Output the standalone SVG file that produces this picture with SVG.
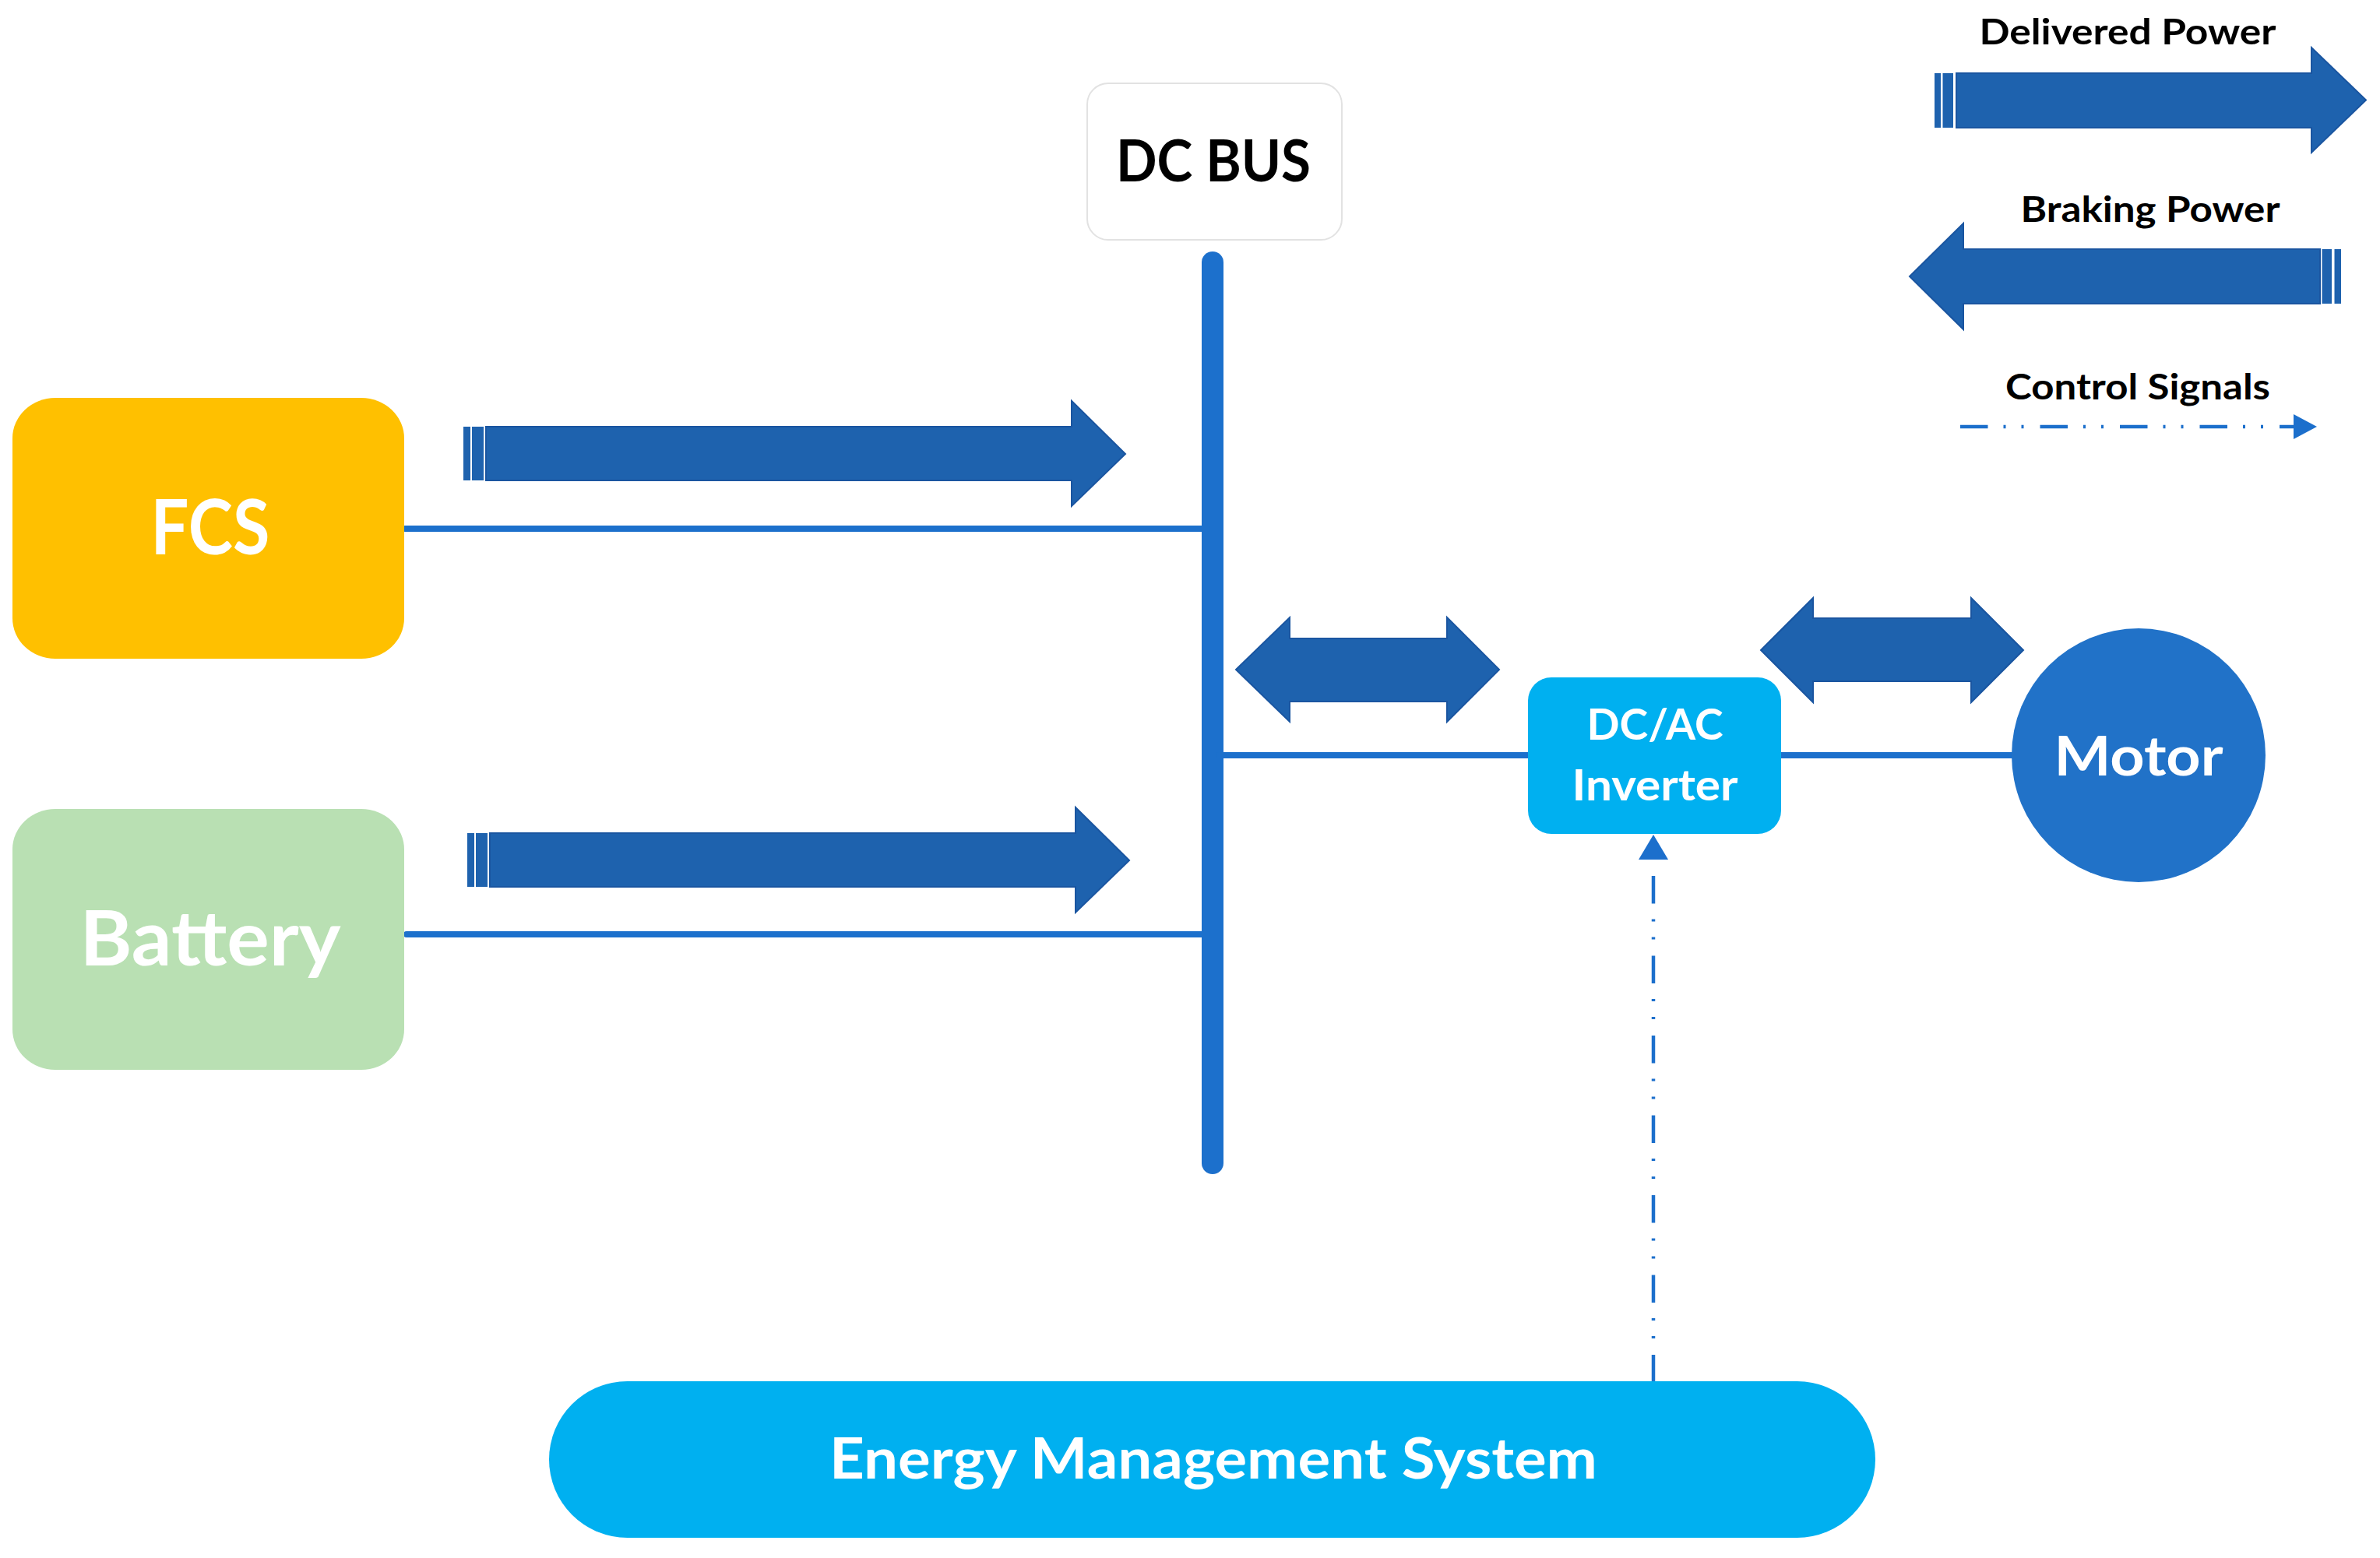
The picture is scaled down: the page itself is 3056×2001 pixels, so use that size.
<svg xmlns="http://www.w3.org/2000/svg" width="3056" height="2001" viewBox="0 0 3056 2001">
  <style>
    .lbl { font-family: Lato, "Open Sans", "Liberation Sans", sans-serif; font-weight: 700; text-anchor: middle; }
    .white { fill: #ffffff; }
    .black { fill: #000000; }
    .parrow { fill: #1e62ae; stroke: #1a55a0; stroke-width: 2; }
    .stripe { fill: #1e62ae; }
    .wire { stroke: #1c70cc; stroke-width: 8; stroke-linecap: round; fill: none; }
    .ctrl { stroke: #1c6fcc; stroke-width: 4.5; fill: none; stroke-dasharray: 35.5 20 3 20 3 21; }
    .ctrlhead { fill: #1c6fcc; }
  </style>
  <rect x="0" y="0" width="3056" height="2001" fill="#ffffff"/>

  <g id="connectors">
    <line id="bus-bar" x1="1557" y1="337" x2="1557" y2="1494" stroke="#1c70cc" stroke-width="28" stroke-linecap="round"/>
    <line class="wire" x1="520" y1="679" x2="1550" y2="679"/>
    <line class="wire" x1="522" y1="1200" x2="1550" y2="1200"/>
    <line class="wire" x1="1565" y1="970" x2="1964" y2="970"/>
    <line class="wire" x1="2285" y1="970" x2="2586" y2="970"/>
    <path class="ctrl" d="M2123,1125 V1776"/>
    <polygon class="ctrlhead" points="2123,1072 2142,1104 2104,1104"/>
    <!-- power flow arrows -->
    <g id="fcs-arrow">
      <rect class="stripe" x="595" y="548" width="9" height="69"/>
      <rect class="stripe" x="606" y="548" width="15" height="69"/>
      <path class="parrow" d="M624,548 H1376 V515 L1445,583 L1376,650 V617 H624 Z"/>
    </g>
    <g id="battery-arrow">
      <rect class="stripe" x="600" y="1070" width="9" height="69"/>
      <rect class="stripe" x="611" y="1070" width="15" height="69"/>
      <path class="parrow" d="M629,1070 H1381 V1037 L1450,1105 L1381,1172 V1139 H629 Z"/>
    </g>
    <path id="bus-inverter-arrow" class="parrow" d="M1587,860 L1656,793 V820 H1858 V793 L1925,860 L1858,927 V901 H1656 V927 Z"/>
    <path id="inverter-motor-arrow" class="parrow" d="M2261,835 L2328,768 V794 H2531 V768 L2598,835 L2531,902 V875 H2328 V902 Z"/>
  </g>

  <g id="node-dcbus">
    <rect x="1396" y="107" width="327" height="201" rx="27" ry="27" fill="#ffffff" stroke="#e2e2e2" stroke-width="2"/>
    <text class="lbl black" x="1558" y="233" font-size="74" textLength="250" lengthAdjust="spacingAndGlyphs">DC BUS</text>
  </g>

  <g id="node-fcs">
    <rect x="16" y="511" width="503" height="335" rx="55" ry="52" fill="#ffc000"/>
    <text class="lbl white" x="270" y="712" font-size="98" textLength="153" lengthAdjust="spacingAndGlyphs">FCS</text>
  </g>

  <g id="node-battery">
    <rect x="16" y="1039" width="503" height="335" rx="55" ry="52" fill="#b9e0b3"/>
    <text class="lbl white" x="270" y="1240" font-size="98" textLength="335" lengthAdjust="spacingAndGlyphs">Battery</text>
  </g>

  <g id="node-inverter">
    <rect x="1962" y="870" width="325" height="201" rx="30" ry="30" fill="#00b0f0"/>
    <text class="lbl white" x="2125" y="950" font-size="55" textLength="175" lengthAdjust="spacingAndGlyphs">DC/AC</text>
    <text class="lbl white" x="2125" y="1028" font-size="55" textLength="213" lengthAdjust="spacingAndGlyphs">Inverter</text>
  </g>

  <g id="node-motor">
    <circle cx="2746" cy="970" r="163" fill="#2172c8"/>
    <text class="lbl white" x="2746" y="996" font-size="71" textLength="217" lengthAdjust="spacingAndGlyphs">Motor</text>
  </g>

  <g id="node-ems">
    <rect x="705" y="1774" width="1703" height="201" rx="100.5" ry="100.5" fill="#00b0f0"/>
    <text class="lbl white" x="1558" y="1899" font-size="72" textLength="986" lengthAdjust="spacingAndGlyphs">Energy Management System</text>
  </g>

  <g id="legend">
    <text class="lbl black" x="2732" y="57" font-size="45" textLength="381" lengthAdjust="spacingAndGlyphs">Delivered Power</text>
    <rect class="stripe" x="2484" y="94" width="8" height="70"/>
    <rect class="stripe" x="2494.5" y="94" width="13.5" height="70"/>
    <path class="parrow" d="M2512,94 H2968 V61 L3038,128.5 L2968,196 V164 H2512 Z"/>

    <text class="lbl black" x="2761" y="285" font-size="45" textLength="333" lengthAdjust="spacingAndGlyphs">Braking Power</text>
    <path class="parrow" d="M2452,355 L2521,287 V320 H2979 V390 H2521 V423 Z"/>
    <rect class="stripe" x="2981.5" y="320" width="12.5" height="70"/>
    <rect class="stripe" x="2997.5" y="320" width="8.5" height="70"/>

    <text class="lbl black" x="2745" y="513" font-size="45" textLength="340" lengthAdjust="spacingAndGlyphs">Control Signals</text>
    <path class="ctrl" d="M2517,548 H2946"/>
    <polygon class="ctrlhead" points="2975,548 2945,532 2945,564"/>
  </g>
</svg>
